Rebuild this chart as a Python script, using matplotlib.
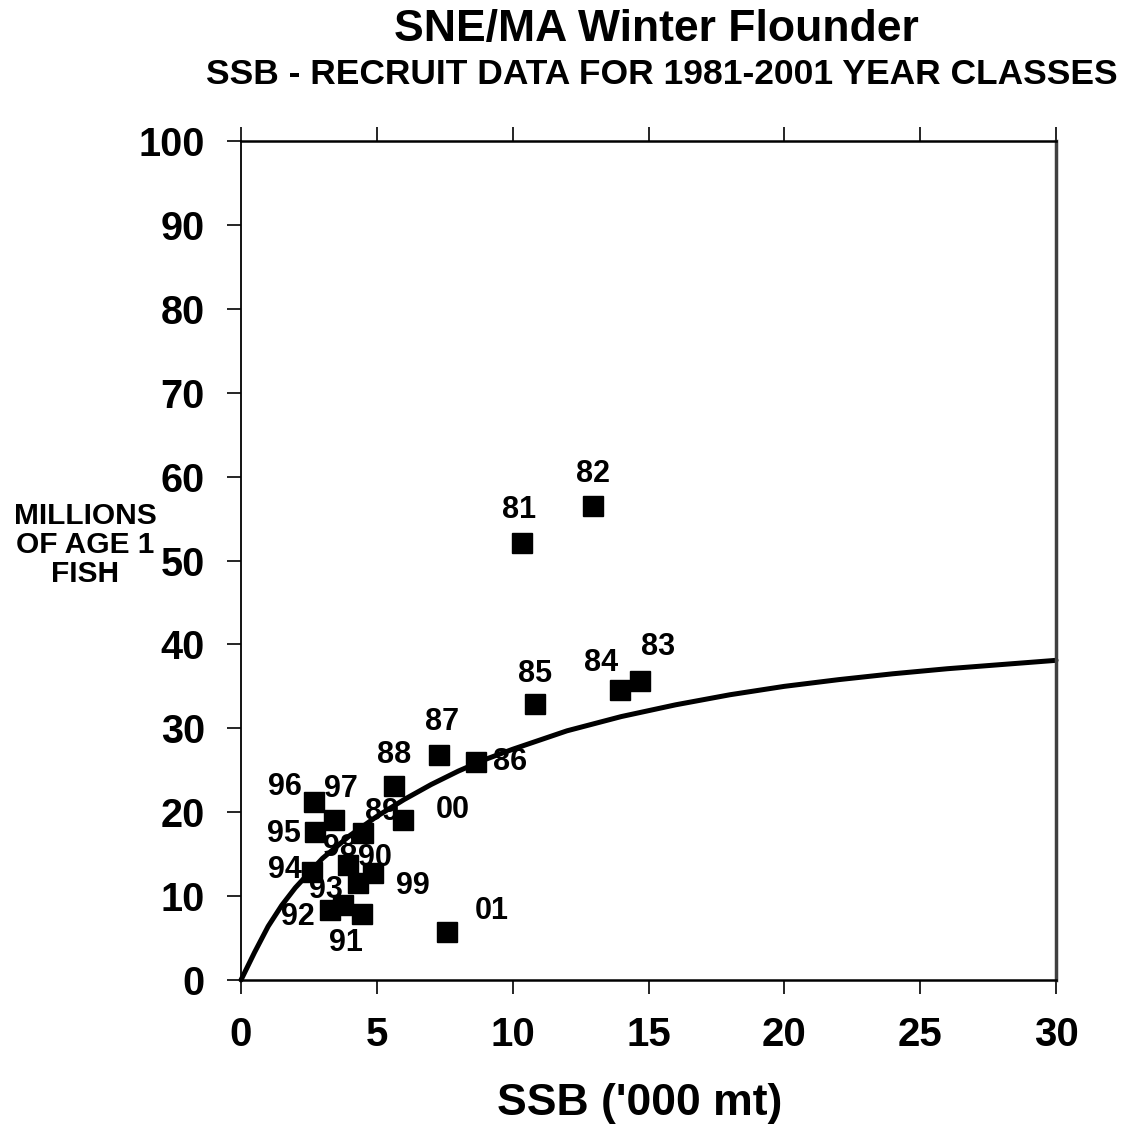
import matplotlib
matplotlib.use("Agg")
import matplotlib.pyplot as plt

# ---- data ----
year_labels = ['81', '82', '83', '84', '85', '86', '87', '88', '89', '90', '91',
               '92', '93', '94', '95', '96', '97', '98', '99', '00', '01']
ssb = [10.34, 12.96, 14.69, 13.95, 10.82, 8.65, 7.29, 5.63, 4.49, 4.86, 4.45,
       3.28, 3.75, 2.61, 2.72, 2.69, 3.42, 3.94, 4.31, 5.96, 7.58]
recruits = [52.1, 56.5, 35.6, 34.6, 32.9, 26.0, 26.8, 23.1, 17.5, 12.8, 7.9,
            8.3, 8.9, 12.9, 17.6, 21.2, 19.1, 13.7, 11.6, 19.1, 5.7]

curve_ssb = [0, 0.5, 1, 1.5, 2, 3, 4, 5, 6, 7, 8, 9, 10, 12, 14, 16, 18, 20,
             22, 24, 26, 28, 30]
curve_rec = [0, 3.3, 6.4, 8.9, 11.0, 14.5, 17.2, 19.5, 21.5, 23.3, 24.9, 26.3,
             27.5, 29.7, 31.4, 32.8, 34.0, 35.0, 35.8, 36.5, 37.1, 37.6, 38.1]

x_ticks = [0, 5, 10, 15, 20, 25, 30]
y_ticks = [0, 10, 20, 30, 40, 50, 60, 70, 80, 90, 100]

# label offsets (pixels) relative to each point -- style only
label_offsets = [(-3, 33), (0, 32), (18, 34), (-19, 27), (0, 30), (34, 0),
                 (3, 33), (0, 31), (19, 21), (2, 15), (-16, -29), (-32, -7),
                 (-17, 15), (-27, 2), (-31, -2), (-29, 15), (7, 31), (-8, 17),
                 (55, -3), (50, 10), (45, 21)]

plt.rcParams['font.family'] = ['Liberation Sans', 'DejaVu Sans']
plt.rcParams['font.weight'] = 'bold'

fig = plt.figure(figsize=(11.38, 11.37), dpi=100)
ax = fig.add_axes([241 / 1138, 1 - 980 / 1137, (1056 - 241) / 1138, (980 - 141) / 1137])

ax.plot(curve_ssb, curve_rec, color='black', lw=3.6, solid_capstyle='round', zorder=2, clip_on=False)

for lab, x, y, off in zip(year_labels, ssb, recruits, label_offsets):
    ax.annotate(lab, (x, y), xytext=off, textcoords='offset pixels',
                ha='center', va='center', fontsize=22, fontweight='bold', zorder=1)

ax.plot(ssb, recruits, ls='none', marker='s', ms=14.5, color='black', zorder=3)

ax.set_xlim(0, 30)
ax.set_ylim(0, 100)
ax.set_xticks(x_ticks)
ax.set_yticks(y_ticks)
ax.set_xticklabels([str(t) for t in x_ticks], fontsize=29, fontweight='bold')
ax.set_yticklabels([str(t) for t in y_ticks], fontsize=28.5, fontweight='bold')
ax.tick_params(axis='x', direction='out', length=10, width=1.2, pad=16,
               top=True, bottom=True)
ax.tick_params(axis='y', direction='out', length=10, width=1.2, pad=16,
               left=True, right=False)

ax.spines['left'].set_linewidth(1.3)
ax.spines['bottom'].set_linewidth(1.8)
ax.spines['top'].set_linewidth(1.8)
ax.spines['right'].set_linewidth(2.5)
ax.spines['right'].set_color('#404040')

fig.text(640 / 1138, 1 - 1104 / 1137, "SSB ('000 mt)", ha='center', va='center',
         fontsize=32, fontweight='bold')

fig.text(85 / 1138, 1 - 545 / 1137, "MILLIONS\nOF AGE 1\nFISH", ha='center', va='center',
         fontsize=21.5, fontweight='bold', linespacing=1.05)

fig.text(656 / 1138, 1 - 30 / 1137, "SNE/MA Winter Flounder", ha='center', va='center',
         fontsize=32, fontweight='bold')
fig.text(662 / 1138, 1 - 75 / 1137, "SSB - RECRUIT DATA FOR 1981-2001 YEAR CLASSES",
         ha='center', va='center', fontsize=25.5, fontweight='bold')

fig.savefig('out.png', dpi=100)
